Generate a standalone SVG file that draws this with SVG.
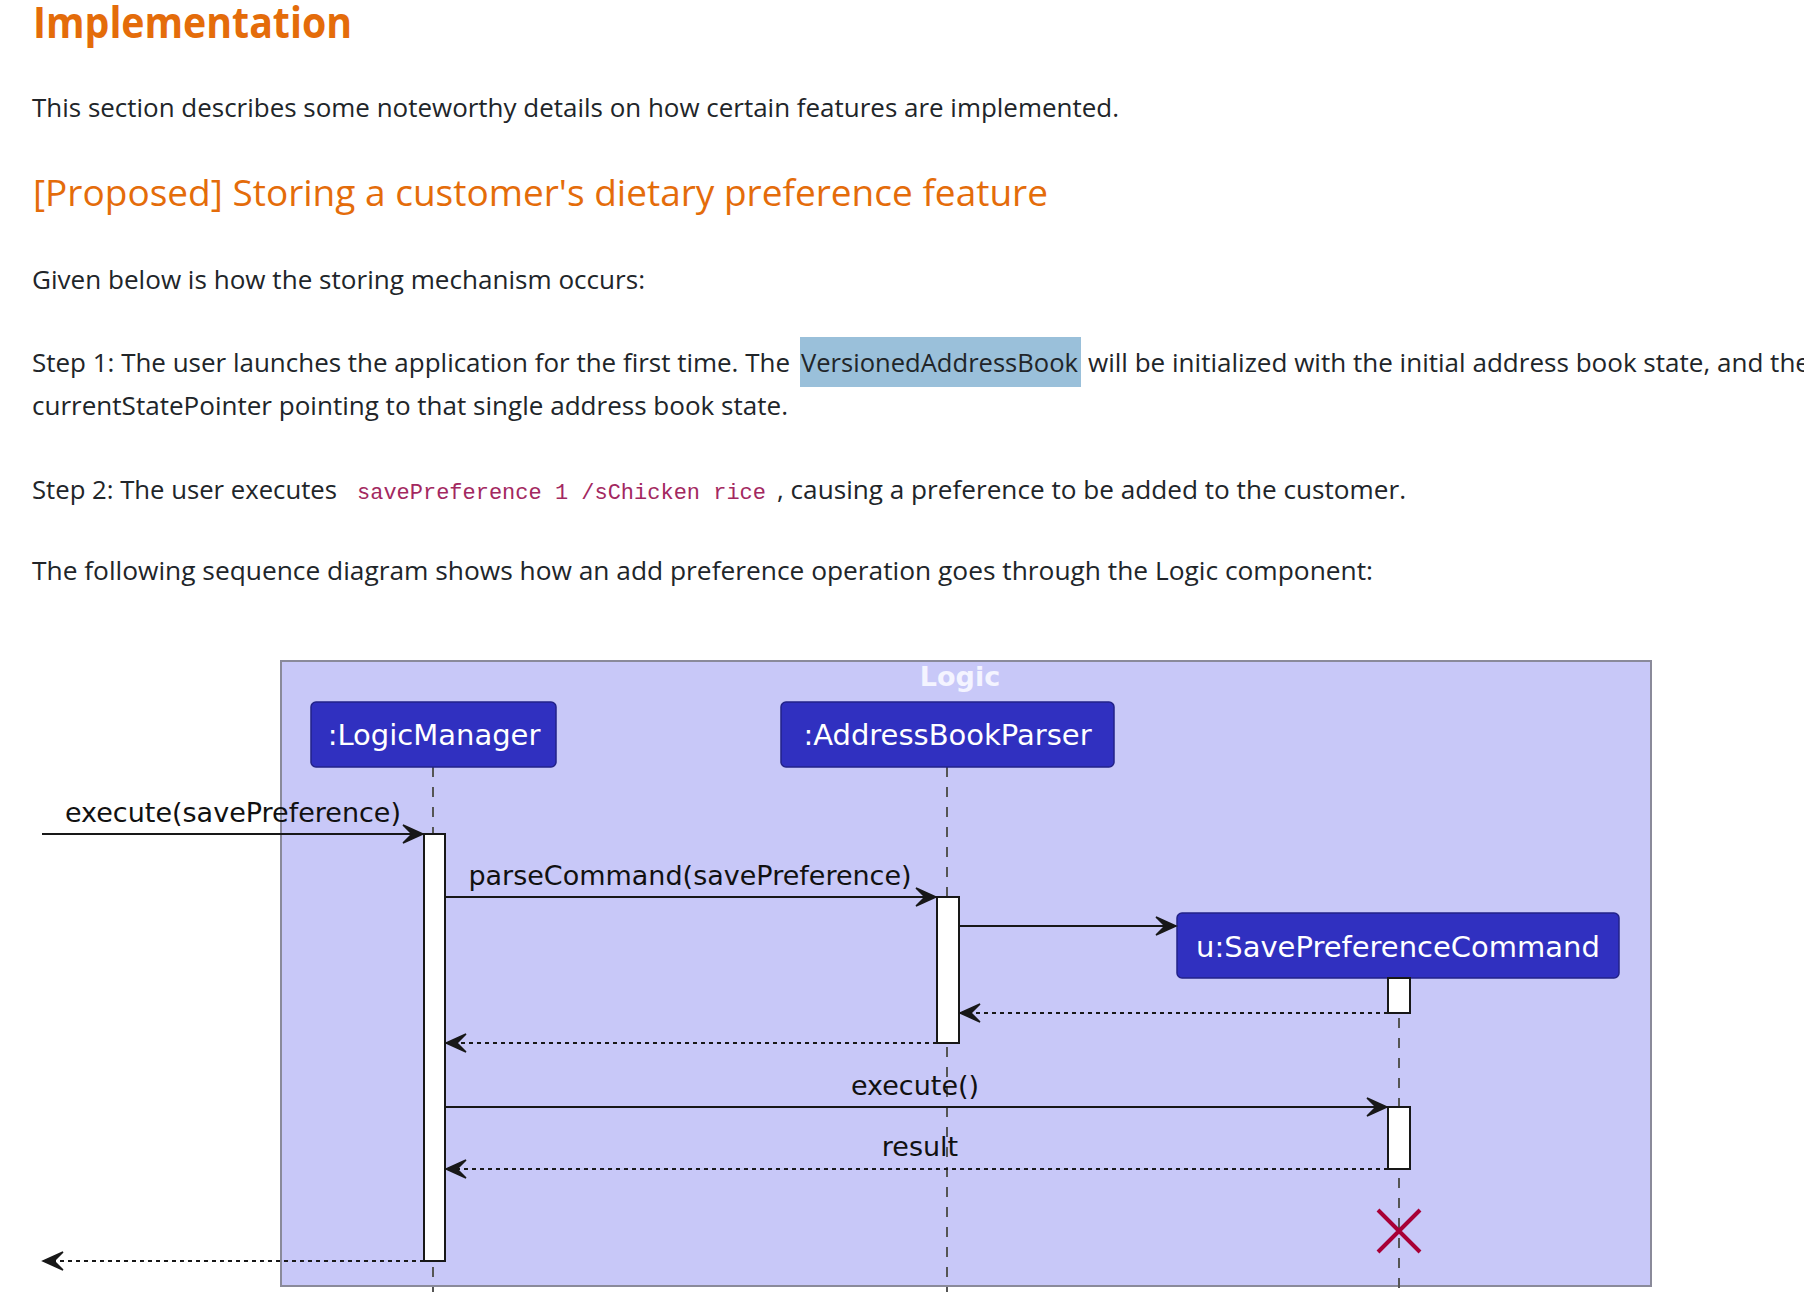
<svg xmlns="http://www.w3.org/2000/svg" width="1804" height="1300" viewBox="0 0 1804 1300">
<style>
.h1{font-family:"Open Sans","Noto Sans",sans-serif;font-weight:700;font-size:43px;fill:#e46c0a}
.h2{font-family:"Open Sans","Noto Sans",sans-serif;font-weight:500;font-size:36px;fill:#e46c0a}
.body{font-family:"Open Sans","Noto Sans",sans-serif;font-size:25.5px;fill:#212529}
.code{font-family:"Liberation Mono","DejaVu Sans Mono",monospace;font-size:22px;fill:#a3285f}
.part{fill:#3030c0;stroke:#222288;stroke-width:1.5}
.ptxt{font-family:"DejaVu Sans",sans-serif;font-size:29px;fill:#ffffff;text-anchor:middle}
.msg{font-family:"DejaVu Sans",sans-serif;font-size:27px;fill:#111111;text-anchor:middle}
.life{stroke:#555555;stroke-width:2;stroke-dasharray:10,10;fill:none}
.act{fill:#ffffff;stroke:#181818;stroke-width:2}
.call{stroke:#181818;stroke-width:2;fill:none;marker-end:url(#ah)}
.ret{stroke:#181818;stroke-width:2;fill:none;stroke-dasharray:4,4;marker-end:url(#ah)}
</style>
<defs>
<marker id="ah" markerUnits="userSpaceOnUse" markerWidth="24" markerHeight="22" viewBox="0 0 24 22" refX="21" refY="10" orient="auto">
<path d="M1,1 L21,10 L1,19 L10,10 Z" fill="#181818" stroke="#181818" stroke-width="1.5" stroke-linejoin="miter"/>
</marker>
</defs>
<rect x="0" y="0" width="1804" height="1300" fill="#ffffff"/>

<g id="page-text">
<text class="h1" x="33" y="38" textLength="319" lengthAdjust="spacingAndGlyphs">Implementation</text>
<text class="body" x="32" y="117" textLength="1087" lengthAdjust="spacingAndGlyphs">This section describes some noteworthy details on how certain features are implemented.</text>
<text class="h2" x="33" y="206" textLength="1015" lengthAdjust="spacingAndGlyphs">[Proposed] Storing a customer's dietary preference feature</text>
<text class="body" x="32" y="289" textLength="613" lengthAdjust="spacingAndGlyphs">Given below is how the storing mechanism occurs:</text>
<rect x="800" y="337" width="281" height="50" fill="#9ac0da"/>
<text class="body" x="32" y="372" textLength="758" lengthAdjust="spacingAndGlyphs">Step 1: The user launches the application for the first time. The</text>
<text class="body" x="801" y="372" textLength="277" lengthAdjust="spacingAndGlyphs">VersionedAddressBook</text>
<text class="body" x="1088" y="372" textLength="722" lengthAdjust="spacingAndGlyphs">will be initialized with the initial address book state, and the</text>
<text class="body" x="32" y="415" textLength="756" lengthAdjust="spacingAndGlyphs">currentStatePointer pointing to that single address book state.</text>
<text class="body" x="32" y="499" textLength="305" lengthAdjust="spacingAndGlyphs">Step 2: The user executes</text>
<text class="code" x="357" y="499" textLength="409" lengthAdjust="spacingAndGlyphs">savePreference 1 /sChicken rice</text>
<text class="body" x="777" y="499" textLength="629" lengthAdjust="spacingAndGlyphs">, causing a preference to be added to the customer.</text>
<text class="body" x="32" y="580" textLength="1341" lengthAdjust="spacingAndGlyphs">The following sequence diagram shows how an add preference operation goes through the Logic component:</text>
</g>

<g id="logic-box">
<rect x="281" y="661" width="1370" height="625" fill="#c8c8f8" stroke="#8a8a9a" stroke-width="2"/>
<text x="960" y="686" font-family="DejaVu Sans, sans-serif" font-weight="bold" font-size="27" fill="#f4f4ff" text-anchor="middle">Logic</text>
</g>

<g id="lifelines">
<line class="life" x1="433" y1="767" x2="433" y2="1292"/>
<line class="life" x1="947" y1="767" x2="947" y2="1292"/>
<line class="life" x1="1399" y1="978" x2="1399" y2="1292"/>
</g>

<g id="LogicManager">
<rect class="part" x="311" y="702" width="245" height="65" rx="5"/>
<text class="ptxt" x="434" y="745">:LogicManager</text>
</g>
<g id="AddressBookParser">
<rect class="part" x="781" y="702" width="333" height="65" rx="5"/>
<text class="ptxt" x="947.5" y="745">:AddressBookParser</text>
</g>
<g id="SavePreferenceCommand">
<rect class="part" x="1177" y="913" width="442" height="65" rx="5"/>
<text class="ptxt" x="1398" y="957">u:SavePreferenceCommand</text>
</g>

<g id="activations">
<rect class="act" x="424" y="834" width="21" height="427"/>
<rect class="act" x="937" y="897" width="22" height="146"/>
<rect class="act" x="1388" y="978" width="22" height="35"/>
<rect class="act" x="1388" y="1107" width="22" height="62"/>
</g>

<g id="connectors">
<line class="call" x1="42" y1="834" x2="423" y2="834"/>
<text class="msg" x="233" y="822">execute(savePreference)</text>
<line class="call" x1="445" y1="897" x2="936" y2="897"/>
<text class="msg" x="690" y="885">parseCommand(savePreference)</text>
<line class="call" x1="959" y1="926" x2="1176" y2="926"/>
<line class="ret" x1="1388" y1="1013" x2="960" y2="1013"/>
<line class="ret" x1="937" y1="1043" x2="446" y2="1043"/>
<line class="call" x1="445" y1="1107" x2="1387" y2="1107"/>
<text class="msg" x="915" y="1095">execute()</text>
<line class="ret" x1="1388" y1="1169" x2="446" y2="1169"/>
<text class="msg" x="920" y="1156">result</text>
<line class="ret" x1="424" y1="1261" x2="43" y2="1261"/>
</g>

<g id="destroy">
<path d="M1378,1210 L1420,1252 M1378,1252 L1420,1210" stroke="#a80036" stroke-width="4" fill="none"/>
</g>
</svg>
